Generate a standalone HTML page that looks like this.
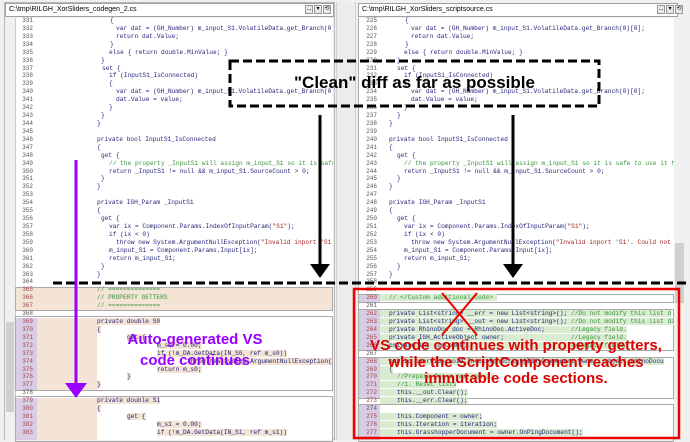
<!DOCTYPE html>
<html><head><meta charset="utf-8"><style>
*{margin:0;padding:0;box-sizing:border-box}
body{width:690px;height:440px;overflow:hidden;background:#f0f0f0;position:relative;font-family:"Liberation Sans",sans-serif}
.abs{position:absolute}
.title{position:absolute;top:3px;height:14px;background:#fff;border:1px solid #a0a0a0;font-size:7px;line-height:12px;padding-left:3px;color:#000}
.btn{position:absolute;top:5px;width:8px;height:9px;border:1px solid #999;background:#e8e8e8;font-size:6px;line-height:7px;text-align:center}
.code{position:absolute;top:17px;font:6.2px/7.93px "Liberation Mono",monospace;white-space:nowrap;color:#25257a}
.code div{height:7.93px;white-space:pre}
.num{position:absolute;top:17px;font:6px/7.93px "Liberation Mono",monospace;white-space:nowrap;color:#555;text-align:right}
.num div{height:7.93px}
.c{color:#3a943a}.s{color:#a52020}
.pk span{background:#f3e4d6}
.gr span{background:#d9ecd2}
.rn{color:#a04848}
</style></head><body>

<div class="abs" style="left:4px;top:2px;width:331px;height:438px;border:1px solid #b8b8b8;background:#f0f0f0"></div>
<div class="title" style="left:5px;width:329px">C:\tmp\RILGH_XorSliders_codegen_2.cs</div>
<div class="btn" style="left:305px">...</div><div class="btn" style="left:314px">▾</div><div class="btn" style="left:323px">⟲</div>
<div class="abs" style="left:15px;top:18px;width:318px;height:422px;background:#fff;border-left:1px solid #ccc"></div>
<div class="abs" style="left:5px;top:18px;width:10px;height:422px;background:#f0f0f0"></div>
<div class="abs" style="left:6px;top:322px;width:8px;height:90px;background:#d0d0d0"></div>

<div class="abs" style="left:15px;top:287px;width:318px;height:24px;background:#f3e4d6;border:1px solid #aaa"></div>
<div class="abs" style="left:15px;top:318px;width:22px;height:72px;background:#d9cde6"></div>
<div class="abs" style="left:37px;top:318px;width:60px;height:72px;background:#f3e4d6"></div>
<div class="abs" style="left:15px;top:316px;width:318px;height:75px;border:1px solid #aaa"></div>
<div class="abs" style="left:15px;top:398px;width:22px;height:42px;background:#d9cde6"></div>
<div class="abs" style="left:37px;top:398px;width:60px;height:42px;background:#f3e4d6"></div>
<div class="abs" style="left:15px;top:396px;width:318px;height:46px;border:1px solid #aaa"></div>

<div class="num" style="left:18px;width:15px">
<div>331</div><div>332</div><div>333</div><div>334</div><div>335</div><div>336</div><div>337</div><div>338</div><div>339</div><div>340</div><div>341</div><div>342</div><div>343</div><div>344</div><div>345</div><div>346</div><div>347</div><div>348</div><div>349</div><div>350</div><div>351</div><div>352</div><div>353</div><div>354</div><div>355</div><div>356</div><div>357</div><div>358</div><div>359</div><div>360</div><div>361</div><div>362</div><div>363</div><div>364</div><div class="rn">365</div><div class="rn">366</div><div class="rn">367</div><div>368</div><div class="rn">369</div><div class="rn">370</div><div class="rn">371</div><div class="rn">372</div><div class="rn">373</div><div class="rn">374</div><div class="rn">375</div><div class="rn">376</div><div class="rn">377</div><div>378</div><div class="rn">379</div><div class="rn">380</div><div class="rn">381</div><div class="rn">382</div><div class="rn">383</div>
</div>
<div class="code" style="left:0;width:333px;overflow:hidden;height:423px">
<div style="padding-left:110px">{</div>
<div style="padding-left:116px">var dat = (GH_Number) m_input_S1.VolatileData.get_Branch(0)</div>
<div style="padding-left:116px">return dat.Value;</div>
<div style="padding-left:110px">}</div>
<div style="padding-left:109px">else { return double.MinValue; }</div>
<div style="padding-left:101px">}</div>
<div style="padding-left:102px">set {</div>
<div style="padding-left:109px">if (InputS1_IsConnected)</div>
<div style="padding-left:109px">{</div>
<div style="padding-left:116px">var dat = (GH_Number) m_input_S1.VolatileData.get_Branch(0)</div>
<div style="padding-left:116px">dat.Value = value;</div>
<div style="padding-left:109px">}</div>
<div style="padding-left:101px">}</div>
<div style="padding-left:97px">}</div>
<div></div>
<div style="padding-left:97px">private bool InputS1_IsConnected</div>
<div style="padding-left:97px">{</div>
<div style="padding-left:101px">get {</div>
<div style="padding-left:109px" class="c">// the property _InputS1 will assign m_input_S1 so it is safe</div>
<div style="padding-left:109px">return _InputS1 != null &amp;&amp; m_input_S1.SourceCount &gt; 0;</div>
<div style="padding-left:101px">}</div>
<div style="padding-left:97px">}</div>
<div></div>
<div style="padding-left:97px">private IGH_Param _InputS1</div>
<div style="padding-left:97px">{</div>
<div style="padding-left:101px">get {</div>
<div style="padding-left:109px">var ix = Component.Params.IndexOfInputParam(<span class="s">"S1"</span>);</div>
<div style="padding-left:109px">if (ix &lt; 0)</div>
<div style="padding-left:116px">throw new System.ArgumentNullException(<span class="s">"Invalid inport 'S1</span></div>
<div style="padding-left:109px">m_input_S1 = Component.Params.Input[ix];</div>
<div style="padding-left:109px">return m_input_S1;</div>
<div style="padding-left:101px">}</div>
<div style="padding-left:97px">}</div>
<div></div>
<div style="padding-left:97px" class="c">// ==============</div>
<div style="padding-left:97px" class="c">// PROPERTY GETTERS</div>
<div style="padding-left:97px" class="c">// ==============</div>
<div></div>
<div style="padding-left:97px" class="pk"><span>private double S0</span></div>
<div style="padding-left:97px" class="pk"><span>{</span></div>
<div style="padding-left:127px" class="pk"><span>get {</span></div>
<div style="padding-left:157px" class="pk"><span>m_s0 = 0.00;</span></div>
<div style="padding-left:157px" class="pk"><span>if (!m_DA.GetData(IN_S0, ref m_s0))</span></div>
<div style="padding-left:187px" class="pk"><span>throw new System.ArgumentNullException(</span></div>
<div style="padding-left:157px" class="pk"><span>return m_s0;</span></div>
<div style="padding-left:127px" class="pk"><span>}</span></div>
<div style="padding-left:97px" class="pk"><span>}</span></div>
<div></div>
<div style="padding-left:97px" class="pk"><span>private double S1</span></div>
<div style="padding-left:97px" class="pk"><span>{</span></div>
<div style="padding-left:127px" class="pk"><span>get {</span></div>
<div style="padding-left:157px" class="pk"><span>m_s1 = 0.00;</span></div>
<div style="padding-left:157px" class="pk"><span>if (!m_DA.GetData(IN_S1, ref m_s1))</span></div>
</div>

<div class="abs" style="left:336px;top:2px;width:20px;height:438px;background:#ececec;border-left:1px solid #d0d0d0;border-right:1px solid #d0d0d0"></div>

<div class="title" style="left:358px;width:320px">C:\tmp\RILGH_XorSliders_scriptsource.cs</div>
<div class="btn" style="left:657px">...</div><div class="btn" style="left:666px">▾</div><div class="btn" style="left:675px">⟲</div>
<div class="abs" style="left:358px;top:18px;width:316px;height:422px;background:#fff;border-left:1px solid #aaa"></div>
<div class="abs" style="left:674px;top:18px;width:11px;height:422px;background:#f0f0f0"></div>
<div class="abs" style="left:675px;top:243px;width:9px;height:60px;background:#d0d0d0"></div>

<div class="abs" style="left:358px;top:295px;width:22px;height:8px;background:#d9cde6"></div>
<div class="abs" style="left:358px;top:310px;width:22px;height:40px;background:#d9cde6"></div>
<div class="abs" style="left:358px;top:358px;width:22px;height:40px;background:#d9cde6"></div>
<div class="abs" style="left:358px;top:405px;width:22px;height:35px;background:#d9cde6"></div>
<div class="abs" style="left:358px;top:294px;width:316px;height:9px;border:1px solid #aaa"></div>
<div class="abs" style="left:358px;top:309px;width:316px;height:42px;border:1px solid #aaa"></div>
<div class="abs" style="left:358px;top:357px;width:316px;height:42px;border:1px solid #aaa"></div>
<div class="abs" style="left:358px;top:404px;width:316px;height:38px;border:1px solid #aaa"></div>

<div class="num" style="left:362px;width:15px">
<div>225</div><div>226</div><div>227</div><div>228</div><div>229</div><div>230</div><div>231</div><div>232</div><div>233</div><div>234</div><div>235</div><div>236</div><div>237</div><div>238</div><div>239</div><div>240</div><div>241</div><div>242</div><div>243</div><div>244</div><div>245</div><div>246</div><div>247</div><div>248</div><div>249</div><div>250</div><div>251</div><div>252</div><div>253</div><div>254</div><div>255</div><div>256</div><div>257</div><div>258</div><div>259</div><div class="rn">260</div><div>261</div><div class="rn">262</div><div class="rn">263</div><div class="rn">264</div><div class="rn">265</div><div class="rn">266</div><div>267</div><div class="rn">268</div><div class="rn">269</div><div class="rn">270</div><div class="rn">271</div><div class="rn">272</div><div class="rn">273</div><div>274</div><div class="rn">275</div><div class="rn">276</div><div class="rn">277</div>
</div>
<div class="code" style="left:380px;width:294px;overflow:hidden;height:423px">
<div style="padding-left:25px">{</div>
<div style="padding-left:31px">var dat = (GH_Number) m_input_S1.VolatileData.get_Branch(0)[0];</div>
<div style="padding-left:31px">return dat.Value;</div>
<div style="padding-left:25px">}</div>
<div style="padding-left:24px">else { return double.MinValue; }</div>
<div style="padding-left:17px">}</div>
<div style="padding-left:17px">set {</div>
<div style="padding-left:24px">if (InputS1_IsConnected)</div>
<div style="padding-left:24px">{</div>
<div style="padding-left:31px">var dat = (GH_Number) m_input_S1.VolatileData.get_Branch(0)[0];</div>
<div style="padding-left:31px">dat.Value = value;</div>
<div style="padding-left:24px">}</div>
<div style="padding-left:17px">}</div>
<div style="padding-left:9px">}</div>
<div></div>
<div style="padding-left:9px">private bool InputS1_IsConnected</div>
<div style="padding-left:9px">{</div>
<div style="padding-left:17px">get {</div>
<div style="padding-left:24px" class="c">// the property _InputS1 will assign m_input_S1 so it is safe to use it he</div>
<div style="padding-left:24px">return _InputS1 != null &amp;&amp; m_input_S1.SourceCount &gt; 0;</div>
<div style="padding-left:17px">}</div>
<div style="padding-left:9px">}</div>
<div></div>
<div style="padding-left:9px">private IGH_Param _InputS1</div>
<div style="padding-left:9px">{</div>
<div style="padding-left:17px">get {</div>
<div style="padding-left:24px">var ix = Component.Params.IndexOfInputParam(<span class="s">"S1"</span>);</div>
<div style="padding-left:24px">if (ix &lt; 0)</div>
<div style="padding-left:31px">throw new System.ArgumentNullException(<span class="s">"Invalid inport 'S1'. Could not</span></div>
<div style="padding-left:24px">m_input_S1 = Component.Params.Input[ix];</div>
<div style="padding-left:24px">return m_input_S1;</div>
<div style="padding-left:17px">}</div>
<div style="padding-left:9px">}</div>
<div></div>
<div></div>
<div class="gr c"><span style="padding-left:9px">// &lt;/Custom additional code&gt; </span></div>
<div></div>
<div class="gr"><span style="padding-left:9px">private List&lt;string&gt; __err = new List&lt;string&gt;(); <b class="c" style="font-weight:normal">//Do not modify this list d</b></span></div>
<div class="gr"><span style="padding-left:9px">private List&lt;string&gt; __out = new List&lt;string&gt;(); <b class="c" style="font-weight:normal">//Do not modify this list di</b></span></div>
<div class="gr"><span style="padding-left:9px">private RhinoDoc doc = RhinoDoc.ActiveDoc;       <b class="c" style="font-weight:normal">//Legacy field.</b></span></div>
<div class="gr"><span style="padding-left:9px">private IGH_ActiveObject owner;                  <b class="c" style="font-weight:normal">//Legacy field.</b></span></div>
<div class="gr"><span style="padding-left:9px">private int runCount;                            <b class="c" style="font-weight:normal">//Legacy field.</b></span></div>
<div></div>
<div class="gr"><span style="padding-left:9px">public override void InvokeRunScript(IGH_Component owner, object rhinoDocu</span></div>
<div class="gr"><span style="padding-left:9px">{</span></div>
<div class="gr c"><span style="padding-left:17px">//Prepare for a new run...</span></div>
<div class="gr c"><span style="padding-left:17px">//1. Reset lists</span></div>
<div class="gr"><span style="padding-left:17px">this.__out.Clear();</span></div>
<div class="gr"><span style="padding-left:17px">this.__err.Clear();</span></div>
<div></div>
<div class="gr"><span style="padding-left:17px">this.Component = owner;</span></div>
<div class="gr"><span style="padding-left:17px">this.Iteration = iteration;</span></div>
<div class="gr"><span style="padding-left:17px">this.GrasshopperDocument = owner.OnPingDocument();</span></div>
</div>

<svg class="abs" style="left:0;top:0" width="690" height="440">
<rect x="230" y="61" width="369" height="45" fill="none" stroke="#000" stroke-width="3" stroke-dasharray="9,4"/>
<line x1="320" y1="115" x2="320" y2="266" stroke="#000" stroke-width="3"/>
<polygon points="310,264 330,264 320,278" fill="#000"/>
<line x1="513" y1="115" x2="513" y2="266" stroke="#000" stroke-width="3"/>
<polygon points="503,264 523,264 513,278" fill="#000"/>
<line x1="53" y1="283" x2="690" y2="283" stroke="#000" stroke-width="3" stroke-dasharray="9,4"/>
<line x1="76" y1="160" x2="76" y2="385" stroke="#9900ff" stroke-width="3"/>
<polygon points="65,383 87,383 76,398" fill="#9900ff"/>
<rect x="354" y="289" width="325" height="149" fill="none" stroke="#ee0000" stroke-width="2.5"/>
<line x1="442" y1="293" x2="477" y2="335" stroke="#ee0000" stroke-width="2"/>
<line x1="477" y1="293" x2="442" y2="335" stroke="#ee0000" stroke-width="2"/>
</svg>
<div class="abs" style="left:230px;top:73px;width:369px;text-align:center;font-size:17px;font-weight:bold;color:#000">"Clean" diff as far as possible</div>
<div class="abs" style="left:110px;top:329px;width:170px;text-align:center;font-size:15px;line-height:21px;font-weight:bold;color:#9900ff">Auto-generated VS<br>code continues</div>
<div class="abs" style="left:355px;top:338px;width:322px;text-align:center;font-size:15px;line-height:16.5px;font-weight:bold;color:#dd0000">VS code continues with property getters,<br>while the ScriptComponent reaches<br>immutable code sections.</div>
</body></html>
